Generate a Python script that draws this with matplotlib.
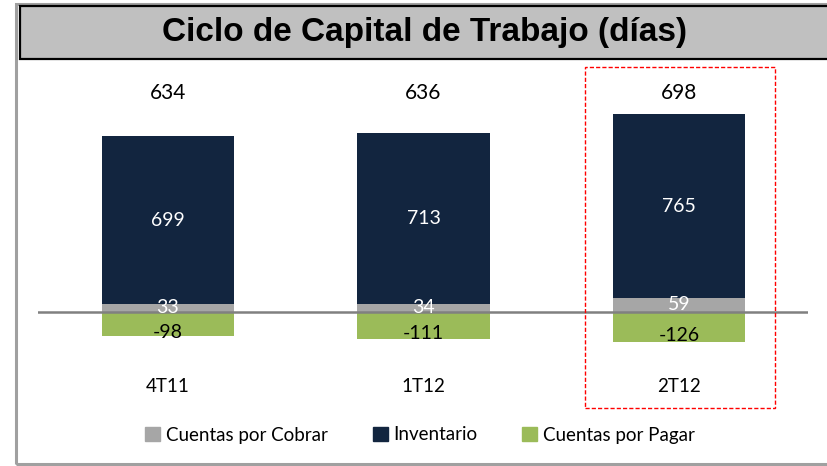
import matplotlib
matplotlib.use('Agg')
from matplotlib import pyplot as plt
from matplotlib.patches import Rectangle, Patch

periods = ['4T11', '1T12', '2T12']
cxc = [33, 34, 59]
inventario = [699, 713, 765]
cxp = [-98, -111, -126]
ciclo = [634, 636, 698]

GRAY = '#A6A6A6'
NAVY = '#12253F'
GREEN = '#9BBB59'

plt.rcParams['font.family'] = ['Lato', 'DejaVu Sans']

W, H = 828, 466
fig = plt.figure(figsize=(W / 100, H / 100), dpi=100)

# outer frame and title box
fig.patches.append(Rectangle((16 / W, 2 / H), 840 / W, 460 / H, transform=fig.transFigure,
                             fill=False, edgecolor='#A0A0A0', linewidth=2.2))
fig.patches.append(Rectangle((20 / W, (H - 59) / H), 840 / W, 53 / H, transform=fig.transFigure,
                             facecolor='#C0C0C0', edgecolor='black', linewidth=1.6))
fig.text(425 / W, (H - 33) / H, 'Ciclo de Capital de Trabajo (días)', ha='center', va='center',
         fontsize=24, fontweight='bold', family=['Liberation Sans Narrow', 'Liberation Sans', 'DejaVu Sans'])

# highlight box
fig.patches.append(Rectangle((585 / W, (H - 408) / H), 190 / W, 341 / H, transform=fig.transFigure,
                             fill=False, edgecolor='red', linewidth=1.0, linestyle=(0, (3, 1.5))))

# axes: zero at y=312 px, 0.24 px per unit
x0, x1 = 38, 808
ax = fig.add_axes([x0 / W, 0, (x1 - x0) / W, 406 / H])
scale = 0.24
zero_px = 312
ax.set_ylim(-(H - zero_px) / scale, (zero_px - 60) / scale)
ax.set_xlim(-130 / 255.5, (x1 - x0 - 130) / 255.5)
ax.axis('off')

xs = range(len(periods))
width = 0.517
ax.bar(xs, cxc, width, color=GRAY, zorder=2)
ax.bar(xs, inventario, width, bottom=cxc, color=NAVY, zorder=2)
ax.bar(xs, cxp, width, color=GREEN, zorder=2)
ax.axhline(0, color='#808080', linewidth=1.8, zorder=3)

for i in xs:
    ax.text(i, cxc[i] + inventario[i] / 2, str(inventario[i]), ha='center', va='center',
            color='white', fontsize=14, zorder=4)
    ax.text(i, cxc[i] / 2 + 2, str(cxc[i]), ha='center', va='center',
            color='white', fontsize=14, zorder=4)
    ax.annotate(str(cxp[i]), (i, cxp[i] / 2), xytext=(0, -6), textcoords='offset points',
                ha='center', va='center', color='black', fontsize=14, zorder=4)
    ax.text(i, (zero_px - 93) / scale, str(ciclo[i]), ha='center', va='center',
            color='black', fontsize=15)
    ax.text(i, (zero_px - 387) / scale, periods[i], ha='center', va='center',
            color='black', fontsize=13.5)

handles = [Patch(color=GRAY, label='Cuentas por Cobrar'),
           Patch(color=NAVY, label='Inventario'),
           Patch(color=GREEN, label='Cuentas por Pagar')]
fig.legend(handles=handles, loc='center', bbox_to_anchor=(420 / W, (H - 435) / H), ncol=3,
           frameon=False, fontsize=13.5, handlelength=0.8, handleheight=0.8,
           handletextpad=0.3, columnspacing=2.4)

fig.savefig('out.png', dpi=100)
